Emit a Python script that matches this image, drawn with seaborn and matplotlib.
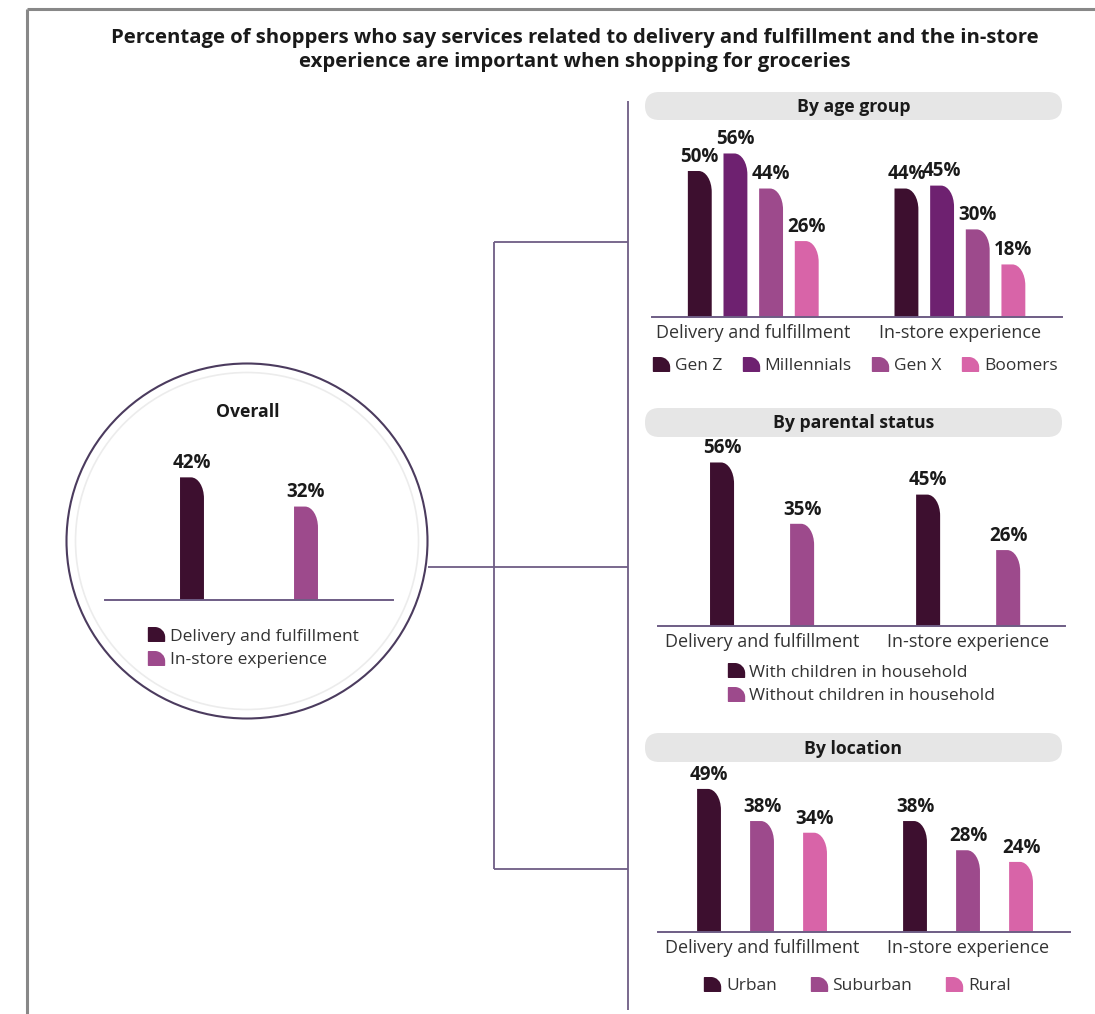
import numpy as np
import pandas as pd
import matplotlib
matplotlib.use("Agg")
import matplotlib.pyplot as plt
import seaborn as sns
from matplotlib.path import Path
from matplotlib.patches import PathPatch, Ellipse, FancyBboxPatch
from matplotlib.lines import Line2D

W, H = 1095, 1014

title_lines = [
    "Percentage of shoppers who say services related to delivery and fulfillment and the in-store",
    "experience are important when shopping for groceries",
]
metrics = ["Delivery and fulfillment", "In-store experience"]

overall_values = [42, 32]

age_groups = ["Gen Z", "Millennials", "Gen X", "Boomers"]
age_delivery = [50, 56, 44, 26]
age_instore = [44, 45, 30, 18]

parent_groups = ["With children in household", "Without children in household"]
parent_delivery = [56, 35]
parent_instore = [45, 26]

location_groups = ["Urban", "Suburban", "Rural"]
location_delivery = [49, 38, 34]
location_instore = [38, 28, 24]

DARK = "#3d0f2f"
PURPLE = "#6e2170"
MAUVE = "#9d4a8c"
PINK = "#d864a8"
LINE = "#6e5d85"
TEXT = "#1a1a1a"
SOFT_TEXT = "#333333"
PX_PER_PCT = 2.92

sns.set_theme(style="white")
plt.rcParams["font.family"] = ["Open Sans", "DejaVu Sans"]

fig = plt.figure(figsize=(W / 100, H / 100), dpi=100)


def fx(x):
    return x / W


def fy(y):
    return 1 - y / H


def px_axes(left, top, right, bottom):
    return fig.add_axes([fx(left), fy(bottom), (right - left) / W, (bottom - top) / H])


def long_df(groups, delivery, instore):
    rows = []
    for g, d, s in zip(groups, delivery, instore):
        rows.append({"metric": metrics[0], "group": g, "value": d})
        rows.append({"metric": metrics[1], "group": g, "value": s})
    return pd.DataFrame(rows)


def corner_path(x0, x1, y1, rx, ry):
    k = 0.5523
    ry = min(ry, y1)
    verts = [
        (x0, 0), (x0, y1), (x1 - rx, y1),
        (x1 - rx + k * rx, y1), (x1, y1 - ry + k * ry), (x1, y1 - ry),
        (x1, 0), (x0, 0),
    ]
    codes = [Path.MOVETO, Path.LINETO, Path.LINETO,
             Path.CURVE4, Path.CURVE4, Path.CURVE4,
             Path.LINETO, Path.CLOSEPOLY]
    return Path(verts, codes)


# legend marker: small block with a rounded upper-right corner
MARKER = corner_path(-0.5, 0.5, 0.85, 0.6, 0.6)
MARKER = Path(MARKER.vertices - np.array([0, 0.425]), MARKER.codes)


def round_bars(ax, px_w, rx_px=13, ry_px=21):
    x0, x1 = ax.get_xlim()
    px_x = px_w / (x1 - x0)
    for bar in list(ax.patches):
        bx, bw, bh = bar.get_x(), bar.get_width(), bar.get_height()
        path = corner_path(bx, bx + bw, bh, rx_px / px_x, ry_px / PX_PER_PCT)
        ax.add_patch(PathPatch(path, facecolor=bar.get_facecolor(),
                               edgecolor="none", zorder=2))
        bar.set_visible(False)


def style_axes(ax, show_ticks=True):
    ax.set_xlabel("")
    ax.set_ylabel("")
    ax.set_yticks([])
    for side in ("left", "right", "top"):
        ax.spines[side].set_visible(False)
    ax.spines["bottom"].set_color(LINE)
    ax.spines["bottom"].set_linewidth(1.4)
    ax.tick_params(axis="x", length=0, pad=5, labelsize=13, labelcolor=SOFT_TEXT)
    if not show_ticks:
        ax.set_xticks([])
    ax.patch.set_alpha(0)


def label_bars(ax):
    for c in ax.containers:
        ax.bar_label(c, labels=[f"{v:.0f}%" for v in c.datavalues], padding=3,
                     fontsize=13.5, fontweight="bold", color=TEXT)


def panel(left, top, right, bottom, df, groups, palette, width, gap, xlim):
    ax = px_axes(left, top, right, bottom)
    sns.barplot(data=df, x="metric", y="value", hue="group", order=metrics,
                hue_order=groups, palette=palette, width=width, gap=gap,
                errorbar=None, saturation=1, legend=False, ax=ax)
    ax.set_xlim(*xlim)
    ax.set_ylim(0, (bottom - top) / PX_PER_PCT)
    style_axes(ax)
    round_bars(ax, right - left)
    label_bars(ax)
    return ax


def legend(groups, palette, cx, cy, ncol, **kw):
    handles = [Line2D([], [], marker=MARKER, linestyle="None", color=c,
                      markersize=11.5) for c in palette]
    fig.legend(handles, groups, loc="center", bbox_to_anchor=(fx(cx), fy(cy)),
               bbox_transform=fig.transFigure, ncol=ncol, frameon=False,
               fontsize=12.5, labelcolor=SOFT_TEXT, handlelength=0.8,
               handletextpad=0.4, borderpad=0, borderaxespad=0, **kw)


def header(text, top, bottom, left=645, right=1062):
    box = FancyBboxPatch((fx(left), fy(bottom)), (right - left) / W, (bottom - top) / H,
                         boxstyle="round,pad=0,rounding_size=0.013",
                         mutation_aspect=W / H, transform=fig.transFigure,
                         facecolor="#e6e6e6", edgecolor="none")
    fig.add_artist(box)
    fig.text(fx((left + right) / 2), fy((top + bottom) / 2 + 1), text, ha="center",
             va="center", fontsize=12.7, fontweight="bold", color=TEXT)


def fline(xs, ys, color=LINE, lw=1.3):
    fig.add_artist(Line2D([fx(x) for x in xs], [fy(y) for y in ys], color=color,
                          lw=lw, transform=fig.transFigure, solid_capstyle="butt"))


# page frame
fline([27, 27], [9, 1014], color="#888888", lw=2.2)
fline([27, 1095], [9, 9], color="#888888", lw=2.2)

# title
fig.text(fx(575), fy(38), title_lines[0], ha="center", va="center",
         fontsize=14.6, fontweight="bold", color=TEXT)
fig.text(fx(575), fy(62), title_lines[1], ha="center", va="center",
         fontsize=14.6, fontweight="bold", color=TEXT)

# connectors
fline([628, 628], [101, 1010])
fline([494, 494], [242, 869])
fline([494, 628], [242, 242])
fline([428, 628], [567, 567])
fline([494, 628], [869, 869])

# overall circle
fig.add_artist(Ellipse((fx(247), fy(541)), 361 / W, 355 / H, transform=fig.transFigure,
                       facecolor="none", edgecolor="#4b3b5e", lw=1.5, zorder=0.5))
fig.add_artist(Ellipse((fx(247), fy(541)), 343 / W, 337 / H, transform=fig.transFigure,
                       facecolor="none", edgecolor="#ececec", lw=1.2, zorder=0.5))

# overall panel
ov_df = pd.DataFrame({"metric": metrics, "value": overall_values})
ax_ov = px_axes(105, 440, 393, 600)
sns.barplot(data=ov_df, x="metric", y="value", hue="metric", order=metrics,
            hue_order=metrics, palette=[DARK, MAUVE], width=0.21, errorbar=None,
            saturation=1, legend=False, ax=ax_ov)
ax_ov.set_xlim(-0.763, 1.763)
ax_ov.set_ylim(0, 160 / PX_PER_PCT)
style_axes(ax_ov, show_ticks=False)
round_bars(ax_ov, 393 - 105)
label_bars(ax_ov)
fig.text(fx(248), fy(412), "Overall", ha="center", va="center", fontsize=12.7,
         fontweight="bold", color=TEXT)
legend(metrics, [DARK, MAUVE], 254, 648, 1, alignment="left", labelspacing=0.4)

# by age group
header("By age group", 92, 120)
panel(652, 130, 1062, 317, long_df(age_groups, age_delivery, age_instore),
      age_groups, [DARK, PURPLE, MAUVE, PINK], 0.69, 0.33, (-0.49, 1.494))
legend(age_groups, [DARK, PURPLE, MAUVE, PINK], 856, 366, 4, columnspacing=1.25)

# by parental status
header("By parental status", 408, 437)
panel(658, 445, 1065, 626, long_df(parent_groups, parent_delivery, parent_instore),
      parent_groups, [DARK, MAUVE], 0.777, 0.7, (-0.505, 1.47))
legend(parent_groups, [DARK, MAUVE], 862, 684, 1, alignment="left", labelspacing=0.4)

# by location
header("By location", 733, 762)
panel(658, 770, 1070, 932, long_df(location_groups, location_delivery, location_instore),
      location_groups, [DARK, MAUVE, PINK], 0.772, 0.55, (-0.505, 1.495))
legend(location_groups, [DARK, MAUVE, PINK], 858, 986, 3, columnspacing=2.0)

fig.savefig("out.png", dpi=100)
